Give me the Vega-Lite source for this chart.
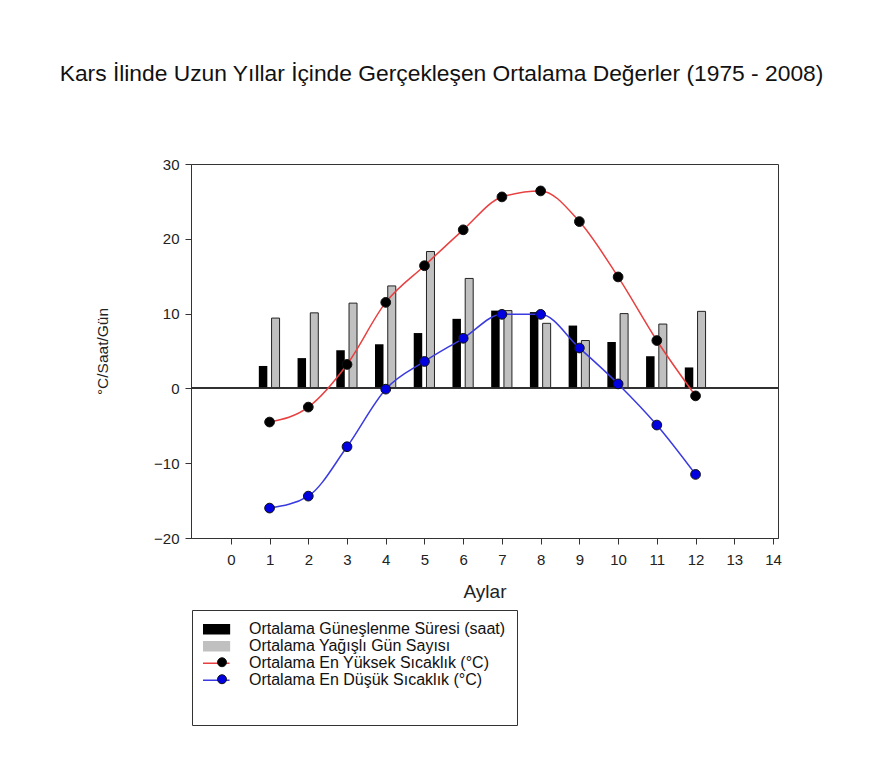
{
  "$schema": "https://vega.github.io/schema/vega-lite/v6.json",
  "autosize": "none",
  "width": 587,
  "height": 374,
  "padding": {"left": 191, "top": 164, "right": 102, "bottom": 240},
  "background": "white",
  "title": {
    "text": "Kars İlinde Uzun Yıllar İçinde Gerçekleşen Ortalama Değerler (1975 - 2008)",
    "fontSize": 22.8,
    "fontWeight": "normal",
    "color": "#111",
    "anchor": "middle",
    "frame": "group",
    "dx": -43,
    "offset": 71
  },
  "config": {
    "font": "Liberation Sans",
    "view": {"stroke": "#333", "strokeWidth": 1},
    "axis": {"grid": false, "domainColor": "#333", "tickColor": "#333", "labelColor": "#222", "titleColor": "#222", "labelFontSize": 15, "titleFontSize": 19, "titleFontWeight": "normal", "tickSize": 6}
  },
  "data": {
    "values": [
      {"ay": 1, "seri": "Ortalama Güneşlenme Süresi (saat)", "deger": 3.0},
      {"ay": 2, "seri": "Ortalama Güneşlenme Süresi (saat)", "deger": 4.05},
      {"ay": 3, "seri": "Ortalama Güneşlenme Süresi (saat)", "deger": 5.1},
      {"ay": 4, "seri": "Ortalama Güneşlenme Süresi (saat)", "deger": 5.9},
      {"ay": 5, "seri": "Ortalama Güneşlenme Süresi (saat)", "deger": 7.4},
      {"ay": 6, "seri": "Ortalama Güneşlenme Süresi (saat)", "deger": 9.3},
      {"ay": 7, "seri": "Ortalama Güneşlenme Süresi (saat)", "deger": 10.4},
      {"ay": 8, "seri": "Ortalama Güneşlenme Süresi (saat)", "deger": 10.2},
      {"ay": 9, "seri": "Ortalama Güneşlenme Süresi (saat)", "deger": 8.4},
      {"ay": 10, "seri": "Ortalama Güneşlenme Süresi (saat)", "deger": 6.2},
      {"ay": 11, "seri": "Ortalama Güneşlenme Süresi (saat)", "deger": 4.3},
      {"ay": 12, "seri": "Ortalama Güneşlenme Süresi (saat)", "deger": 2.8},
      {"ay": 1, "seri": "Ortalama Yağışlı Gün Sayısı", "deger": 9.4},
      {"ay": 2, "seri": "Ortalama Yağışlı Gün Sayısı", "deger": 10.1},
      {"ay": 3, "seri": "Ortalama Yağışlı Gün Sayısı", "deger": 11.4},
      {"ay": 4, "seri": "Ortalama Yağışlı Gün Sayısı", "deger": 13.7},
      {"ay": 5, "seri": "Ortalama Yağışlı Gün Sayısı", "deger": 18.3},
      {"ay": 6, "seri": "Ortalama Yağışlı Gün Sayısı", "deger": 14.7},
      {"ay": 7, "seri": "Ortalama Yağışlı Gün Sayısı", "deger": 10.4},
      {"ay": 8, "seri": "Ortalama Yağışlı Gün Sayısı", "deger": 8.7},
      {"ay": 9, "seri": "Ortalama Yağışlı Gün Sayısı", "deger": 6.4},
      {"ay": 10, "seri": "Ortalama Yağışlı Gün Sayısı", "deger": 10.0},
      {"ay": 11, "seri": "Ortalama Yağışlı Gün Sayısı", "deger": 8.6},
      {"ay": 12, "seri": "Ortalama Yağışlı Gün Sayısı", "deger": 10.3},
      {"ay": 1, "seri": "Ortalama En Yüksek Sıcaklık (°C)", "deger": -4.5},
      {"ay": 2, "seri": "Ortalama En Yüksek Sıcaklık (°C)", "deger": -2.5},
      {"ay": 3, "seri": "Ortalama En Yüksek Sıcaklık (°C)", "deger": 3.2},
      {"ay": 4, "seri": "Ortalama En Yüksek Sıcaklık (°C)", "deger": 11.5},
      {"ay": 5, "seri": "Ortalama En Yüksek Sıcaklık (°C)", "deger": 16.4},
      {"ay": 6, "seri": "Ortalama En Yüksek Sıcaklık (°C)", "deger": 21.2},
      {"ay": 7, "seri": "Ortalama En Yüksek Sıcaklık (°C)", "deger": 25.6},
      {"ay": 8, "seri": "Ortalama En Yüksek Sıcaklık (°C)", "deger": 26.4},
      {"ay": 9, "seri": "Ortalama En Yüksek Sıcaklık (°C)", "deger": 22.3},
      {"ay": 10, "seri": "Ortalama En Yüksek Sıcaklık (°C)", "deger": 14.9},
      {"ay": 11, "seri": "Ortalama En Yüksek Sıcaklık (°C)", "deger": 6.4},
      {"ay": 12, "seri": "Ortalama En Yüksek Sıcaklık (°C)", "deger": -1.0},
      {"ay": 1, "seri": "Ortalama En Düşük Sıcaklık (°C)", "deger": -16.0},
      {"ay": 2, "seri": "Ortalama En Düşük Sıcaklık (°C)", "deger": -14.4},
      {"ay": 3, "seri": "Ortalama En Düşük Sıcaklık (°C)", "deger": -7.8},
      {"ay": 4, "seri": "Ortalama En Düşük Sıcaklık (°C)", "deger": -0.1},
      {"ay": 5, "seri": "Ortalama En Düşük Sıcaklık (°C)", "deger": 3.6},
      {"ay": 6, "seri": "Ortalama En Düşük Sıcaklık (°C)", "deger": 6.7},
      {"ay": 7, "seri": "Ortalama En Düşük Sıcaklık (°C)", "deger": 9.9},
      {"ay": 8, "seri": "Ortalama En Düşük Sıcaklık (°C)", "deger": 9.9},
      {"ay": 9, "seri": "Ortalama En Düşük Sıcaklık (°C)", "deger": 5.4},
      {"ay": 10, "seri": "Ortalama En Düşük Sıcaklık (°C)", "deger": 0.6},
      {"ay": 11, "seri": "Ortalama En Düşük Sıcaklık (°C)", "deger": -4.9},
      {"ay": 12, "seri": "Ortalama En Düşük Sıcaklık (°C)", "deger": -11.5}
    ]
  },
  "encoding": {
    "x": {
      "field": "ay", "type": "quantitative",
      "scale": {"domain": [-0.9, 14], "nice": false, "zero": false},
      "axis": {"title": "Aylar", "values": [0,1,2,3,4,5,6,7,8,9,10,11,12,13,14], "labelPadding": 8, "titlePadding": 15, "labelFlush": false}
    },
    "y": {
      "field": "deger", "type": "quantitative",
      "scale": {"domain": [-20, 30], "nice": false},
      "axis": {"title": "°C/Saat/Gün", "values": [-20,-10,0,10,20,30], "labelPadding": 6, "titlePadding": 43, "titleFontSize": 15.5, "labelFlush": false}
    }
  },
  "layer": [
    {
      "transform": [{"filter": "datum.seri == 'Ortalama Güneşlenme Süresi (saat)'"}],
      "mark": {"type": "bar", "width": 8.5, "xOffset": -6.5},
      "encoding": {
        "color": {
          "field": "seri", "type": "nominal",
          "scale": {
            "domain": ["Ortalama Güneşlenme Süresi (saat)", "Ortalama Yağışlı Gün Sayısı", "Ortalama En Yüksek Sıcaklık (°C)", "Ortalama En Düşük Sıcaklık (°C)"],
            "range": ["#000000", "#c0c0c0", "#e84040", "#3a3ae0"]
          },
          "legend": {
            "title": " ",
            "titleOrient": "bottom",
            "titlePadding": 14,
            "titleFontSize": 12,
            "orient": "none",
            "legendX": 1,
            "legendY": 446,
            "direction": "vertical",
            "padding": 11,
            "strokeColor": "#333",
            "symbolSize": 1369,
            "clipHeight": 16.5,
            "rowPadding": 0,
            "labelFontSize": 16,
            "labelColor": "#111",
            "labelOffset": 30,
            "labelLimit": 500,
            "encode": {
              "symbols": {
                "update": {
                  "shape": {"signal": "datum.index >= 2 ? 'M-1,0H1' : 'M-1,-0.25H1V0.25H-1Z'"},
                  "fill": {"signal": "datum.index == 0 ? '#000000' : datum.index == 1 ? '#c0c0c0' : 'transparent'"},
                  "stroke": {"signal": "datum.index < 2 ? '#000000' : datum.index == 2 ? '#e84040' : '#3a3ae0'"},
                  "strokeWidth": {"signal": "datum.index < 2 ? 1.3 : 1.5"},
                  "opacity": {"value": 1}
                }
              }
            }
          }
        }
      }
    },
    {
      "transform": [{"filter": "datum.seri == 'Ortalama Yağışlı Gün Sayısı'"}],
      "mark": {"type": "bar", "width": 8, "xOffset": 6, "stroke": "#222", "strokeWidth": 1},
      "encoding": {
        "color": {"field": "seri", "type": "nominal"}
      }
    },
    {
      "mark": {"type": "rule", "color": "#333", "strokeWidth": 1},
      "encoding": {"y": {"datum": 0}, "x": {"value": 0}, "x2": {"value": 587}}
    },
    {
      "transform": [{"filter": "datum.seri == 'Ortalama En Yüksek Sıcaklık (°C)' || datum.seri == 'Ortalama En Düşük Sıcaklık (°C)'"}],
      "mark": {"type": "line", "interpolate": "monotone", "strokeWidth": 1.5},
      "encoding": {
        "color": {"field": "seri", "type": "nominal"}
      }
    },
    {
      "transform": [{"filter": "datum.seri == 'Ortalama En Yüksek Sıcaklık (°C)' || datum.seri == 'Ortalama En Düşük Sıcaklık (°C)'"}],
      "mark": {"type": "point", "filled": true, "opacity": 1, "size": 95, "stroke": "#111", "strokeWidth": 1},
      "encoding": {
        "fill": {
          "field": "seri", "type": "nominal",
          "scale": {"domain": ["Ortalama En Yüksek Sıcaklık (°C)", "Ortalama En Düşük Sıcaklık (°C)"], "range": ["#000000", "#0000e0"]},
          "legend": {
            "title": null,
            "orient": "none",
            "legendX": 12,
            "legendY": 490,
            "padding": 0,
            "symbolType": "circle",
            "symbolSize": 80,
            "symbolOffset": 14,
            "symbolStrokeColor": "#111",
            "symbolStrokeWidth": 1,
            "symbolOpacity": 1,
            "clipHeight": 16.5,
            "rowPadding": 0,
            "labelFontSize": 6,
            "labelExpr": "''",
            "labelOpacity": 0
          }
        }
      }
    }
  ]
}
